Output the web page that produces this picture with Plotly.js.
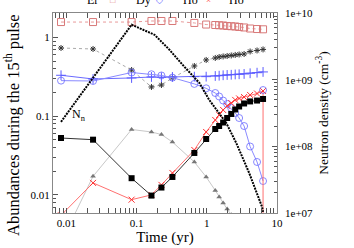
<!DOCTYPE html>
<html><head><meta charset="utf-8">
<script src="https://cdn.plot.ly/plotly-3.0.1.min.js"></script>
<style>html,body{margin:0;padding:0;background:#fff;}#chart{width:354px;height:248px;}</style>
</head><body><div id="chart"></div>
<script>
// Time grid (yr)
const time = [0.0084, 0.024, 0.085, 0.163, 0.226, 0.324, 0.665, 0.98, 1.32, 1.5, 1.71, 1.95, 2.23, 2.54, 2.89, 3.4, 4.14, 5.2, 6.33];
// Abundances during the 15th pulse
const erAbund   = [1.57, 1.57, 1.57, 1.62, 1.62, 1.62, 1.53, 1.46, 1.44, 1.43, 1.42, 1.40, 1.39, 1.38, 1.36, 1.34, 1.30, 1.28, 1.27];
const dyAbund   = [0.283, 0.280, 0.359, 0.341, 0.329, 0.309, 0.257, 0.226, 0.197, 0.178, 0.158, 0.143, 0.127, 0.110, 0.0948, 0.075, 0.0412, 0.0262, 0.0150];
const hoPlus    = [0.331, 0.297, 0.306, 0.315, 0.312, 0.315, 0.318, 0.318, 0.324, 0.327, 0.331, 0.334, 0.336, 0.339, 0.341, 0.344, 0.351, 0.357, 0.365];
const starAbund = [0.735, 0.714, 0.386, 0.235, 0.249, 0.306, 0.434, 0.518, 0.549, 0.565, 0.574, 0.582, 0.591, 0.600, 0.608, 0.617, 0.664, 0.684, 0.705];
const hoCross   = [0.0055, 0.0142, 0.0087, 0.0100, 0.0134, 0.0190, 0.0372, 0.063, 0.0895, 0.104, 0.120, 0.135, 0.147, 0.161, 0.168, 0.175, 0.186, 0.194, 0.209];
const squareAbund = [0.0528, 0.0503, 0.0163, 0.0098, 0.0124, 0.0169, 0.0341, 0.0513, 0.0687, 0.075, 0.0831, 0.0948, 0.1067, 0.1217, 0.1328, 0.145, 0.154, 0.158, 0.1655];
const triTime   = [0.0084, 0.024, 0.085, 0.163, 0.226, 0.324, 0.665, 0.98, 1.32, 1.5, 1.71, 1.95, 2.23];
const triAbund  = [0.0025, 0.0172, 0.0678, 0.063, 0.0585, 0.047, 0.0262, 0.0169, 0.0114, 0.0094, 0.0079, 0.0066, 0.0056];
// red drop at the end
const hoCrossEndTime = [6.33, 6.33];
const hoCrossEndVal = [0.209, 0.001];
const dyEndTime = [6.33];
const dyEndVal = [0.215];
// Neutron density (cm^-3)
const nnTime = [0.0084, 0.085, 0.18, 0.294, 0.48, 0.783, 1.08, 1.89, 2.62, 4.01, 6.13, 6.33];
const nnDens = [2.33e8, 6.67e9, 4.72e9, 2.81e9, 1.56e9, 8.97e8, 4.99e8, 2.25e8, 1.13e8, 4.0e7, 1.23e7, 1.04e7];

const xTicks = [0.01, 0.1, 1, 10];
const xTickText = ['0.01', '0.1', '1', '10'];
const yTicks = [0.01, 0.1, 1];
const yTickText = ['0.01', '0.1', '1'];
const y2Ticks = [1e7, 1e8, 1e9, 1e10];
const y2TickText = ['1e+07', '1e+08', '1e+09', '1e+10'];
const legendNames = ['Er', 'Dy', 'Ho', 'Ho'];

const traces = [
  {x: triTime, y: triAbund, type: 'scatter', mode: 'lines+markers', line: {color: '#c8c8c8', width: 1},
   marker: {symbol: 'triangle-up', size: 5, color: '#777'}},
  {x: time, y: erAbund, type: 'scatter', mode: 'lines+markers', line: {color: '#e89a9a', width: 1, dash: 'dot'},
   marker: {symbol: 'square-open', size: 7, color: '#d87878', line: {width: 1}}},
  {x: time, y: starAbund, type: 'scatter', mode: 'lines+markers', line: {color: '#aaa', width: 1, dash: 'dot'},
   marker: {symbol: 'asterisk-open', size: 5, color: '#333', line: {width: 1, color: '#333'}}},
  {x: time, y: hoPlus, type: 'scatter', mode: 'lines+markers', line: {color: '#6a6aff', width: 1},
   marker: {symbol: 'cross-thin-open', size: 7, color: '#5a5aff', line: {width: 1, color: '#5a5aff'}}},
  {x: time, y: dyAbund, type: 'scatter', mode: 'lines+markers', line: {color: '#8a8aff', width: 1},
   marker: {symbol: 'circle-open', size: 7, color: '#6a6aff', line: {width: 0.8}}},
  {x: hoCrossEndTime, y: hoCrossEndVal, type: 'scatter', mode: 'lines', line: {color: '#ff7070', width: 1}},
  {x: time, y: hoCross, type: 'scatter', mode: 'lines+markers', line: {color: '#ff7070', width: 1},
   marker: {symbol: 'x-thin-open', size: 6, color: '#ff3030', line: {width: 1, color: '#ff3030'}}},
  {x: time, y: squareAbund, type: 'scatter', mode: 'lines+markers', line: {color: '#333', width: 1},
   marker: {symbol: 'square', size: 6, color: '#000'}},
  {x: dyEndTime, y: dyEndVal, type: 'scatter', mode: 'markers',
   marker: {symbol: 'circle-open', size: 7, color: '#6a6aff', line: {width: 0.8}}},
  {x: nnTime, y: nnDens, yaxis: 'y2', type: 'scatter', mode: 'lines', line: {color: '#000', width: 2, dash: '2px,1px'}}
];

const fam = 'Liberation Serif, Times New Roman, serif';
const font = {family: fam, size: 11, color: '#000'};
const layout = {
  width: 354, height: 248,
  margin: {l: 53, r: 77, t: 13, b: 35},
  paper_bgcolor: '#fff', plot_bgcolor: '#fff',
  showlegend: false,
  font: font,
  xaxis: {type: 'log', range: [-2.19, 1.0], tickvals: xTicks, ticktext: xTickText,
    ticks: 'inside', ticklen: 5, tickcolor: '#555', showgrid: false, zeroline: false,
    showline: true, linecolor: '#888', linewidth: 1, mirror: 'allticks',
    minor: {ticks: 'inside', ticklen: 3, tickcolor: '#555', dtick: 'D1', showgrid: false},
    title: {text: 'Time (yr)', font: {family: fam, size: 15, color: '#000'}, standoff: 2}, tickfont: font},
  yaxis: {type: 'log', range: [-2.23, 0.311], tickvals: yTicks, ticktext: yTickText,
    ticks: 'inside', ticklen: 5, tickcolor: '#555', showgrid: false, zeroline: false,
    showline: true, linecolor: '#888', linewidth: 1, mirror: true,
    minor: {ticks: 'inside', ticklen: 3, tickcolor: '#555', dtick: 'D1', showgrid: false},
    tickfont: font},
  yaxis2: {type: 'log', range: [7, 10], overlaying: 'y', side: 'right', tickvals: y2Ticks, ticktext: y2TickText,
    ticks: 'inside', ticklen: 5, tickcolor: '#555', showgrid: false, zeroline: false, showline: false,
    ticklabelstandoff: 7,
    minor: {ticks: 'inside', ticklen: 3, tickcolor: '#555', dtick: 'D1', showgrid: false},
    title: {text: 'Neutron density (cm<sup>-3</sup>)', font: {family: fam, size: 13.5, color: '#000'}, standoff: 6}, tickfont: font},
  annotations: [
    {xref: 'paper', yref: 'paper', x: (12-53)/224, y: (213-125)/200, text: 'Abundances during the 15<sup>th</sup> pulse',
     textangle: -90, showarrow: false, xanchor: 'center', yanchor: 'middle', font: {family: fam, size: 16.5, color: '#000'}},
    {xref: 'x', yref: 'y', x: Math.log10(0.0112), y: Math.log10(0.1035), text: 'N<sub>n</sub>', showarrow: false,
     xanchor: 'left', yanchor: 'middle', font: {family: fam, size: 12}},
    {xref: 'paper', yref: 'paper', x: (92-53)/224, y: 1.065, text: legendNames[0], showarrow: false, xanchor: 'center', yanchor: 'middle', font: {family: fam, size: 12}},
    {xref: 'paper', yref: 'paper', x: (113-53)/224, y: 1.065, text: '□', showarrow: false, xanchor: 'center', yanchor: 'middle', font: {family: fam, size: 9, color: '#e08080'}},
    {xref: 'paper', yref: 'paper', x: (143-53)/224, y: 1.065, text: legendNames[1], showarrow: false, xanchor: 'center', yanchor: 'middle', font: {family: fam, size: 12}},
    {xref: 'paper', yref: 'paper', x: (159-53)/224, y: 1.065, text: '◇', showarrow: false, xanchor: 'center', yanchor: 'middle', font: {family: fam, size: 9, color: '#6a6aff'}},
    {xref: 'paper', yref: 'paper', x: (190-53)/224, y: 1.065, text: legendNames[2], showarrow: false, xanchor: 'center', yanchor: 'middle', font: {family: fam, size: 12}},
    {xref: 'paper', yref: 'paper', x: (208-53)/224, y: 1.065, text: '×', showarrow: false, xanchor: 'center', yanchor: 'middle', font: {family: fam, size: 9, color: '#ff4040'}},
    {xref: 'paper', yref: 'paper', x: (236-53)/224, y: 1.065, text: legendNames[3], showarrow: false, xanchor: 'center', yanchor: 'middle', font: {family: fam, size: 12}}
  ]
};
Plotly.newPlot('chart', traces, layout, {displayModeBar: false, staticPlot: true});
</script></body></html>
